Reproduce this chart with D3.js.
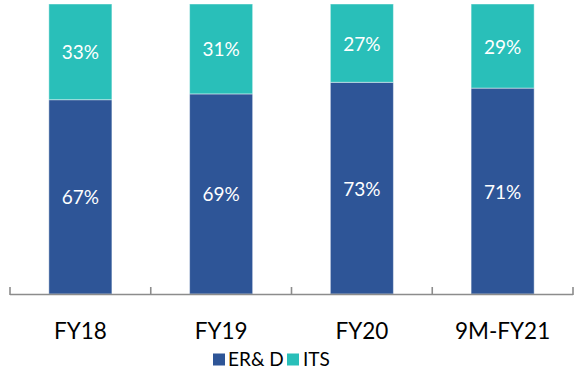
<!DOCTYPE html>
<html>
<head>
<meta charset="utf-8">
<script src="https://cdn.jsdelivr.net/npm/d3@7"></script>
<style>
  html, body { margin: 0; padding: 0; background: #fff; }
  svg { display: block; }
</style>
</head>
<body>
<svg id="chart" width="574" height="371"></svg>
<script>
const categories = ["FY18", "FY19", "FY20", "9M-FY21"];
const erdValues = [67, 69, 73, 71];
const itsValues = [33, 31, 27, 29];
const seriesNames = ["ER& D", "ITS"];
const seriesColors = ["#2E5597", "#29BFB9"];

const svg = d3.select("#chart");
const font = "Lato, 'Open Sans', sans-serif";

const x = d3.scaleBand().domain(categories).range([10, 573]).paddingInner(0.552).paddingOuter(0.276);
const y = d3.scaleLinear().domain([0, 100]).range([294, 4]);

const rows = categories.map((c, i) => ({ cat: c, erd: erdValues[i], its: itsValues[i] }));
const stack = d3.stack().keys(["erd", "its"])(rows);

const g = svg.append("g");
stack.forEach((layer, li) => {
  g.selectAll(null).data(layer).enter().append("rect")
    .attr("x", d => x(d.data.cat))
    .attr("width", x.bandwidth())
    .attr("y", d => y(d[1]))
    .attr("height", d => y(d[0]) - y(d[1]))
    .attr("fill", seriesColors[li])
    .attr("stroke", "rgba(255,255,255,0.45)")
    .attr("stroke-width", 1);
  g.selectAll(null).data(layer).enter().append("text")
    .attr("x", d => x(d.data.cat) + x.bandwidth() / 2)
    .attr("y", d => (y(d[0]) + y(d[1])) / 2 + 7.5)
    .attr("text-anchor", "middle")
    .attr("fill", "#fff")
    .style("font-family", font)
    .style("font-size", "19px")
    .text(d => (d[1] - d[0]) + "%");
});

// axis
const step = x.step();
const axis = svg.append("g");
axis.append("line").attr("x1", 10).attr("x2", 573).attr("y1", 294.5).attr("y2", 294.5)
  .attr("stroke", "#8c8c8c").attr("stroke-width", 1.6);
d3.range(categories.length + 1).forEach(i => {
  const tx = 10 + i * step;
  axis.append("line").attr("x1", tx).attr("x2", tx).attr("y1", 287).attr("y2", 295)
    .attr("stroke", "#8c8c8c").attr("stroke-width", 1.6);
});
axis.selectAll(null).data(categories).enter().append("text")
  .attr("x", d => x(d) + x.bandwidth() / 2)
  .attr("y", 338.5)
  .attr("text-anchor", "middle")
  .attr("fill", "#000")
  .style("font-family", font)
  .style("font-size", "22.5px")
  .text(d => d);

// legend
const legend = svg.append("g");
const legendItems = [
  { name: seriesNames[0], color: seriesColors[0], sx: 213, tx: 228 },
  { name: seriesNames[1], color: seriesColors[1], sx: 287, tx: 303 }
];
legendItems.forEach(it => {
  legend.append("rect").attr("x", it.sx).attr("y", 353.5).attr("width", 12).attr("height", 12).attr("fill", it.color);
  legend.append("text").attr("x", it.tx).attr("y", 366)
    .attr("fill", "#000")
    .style("font-family", font)
    .style("font-size", "19px")
    .text(it.name);
});
</script>
</body>
</html>
